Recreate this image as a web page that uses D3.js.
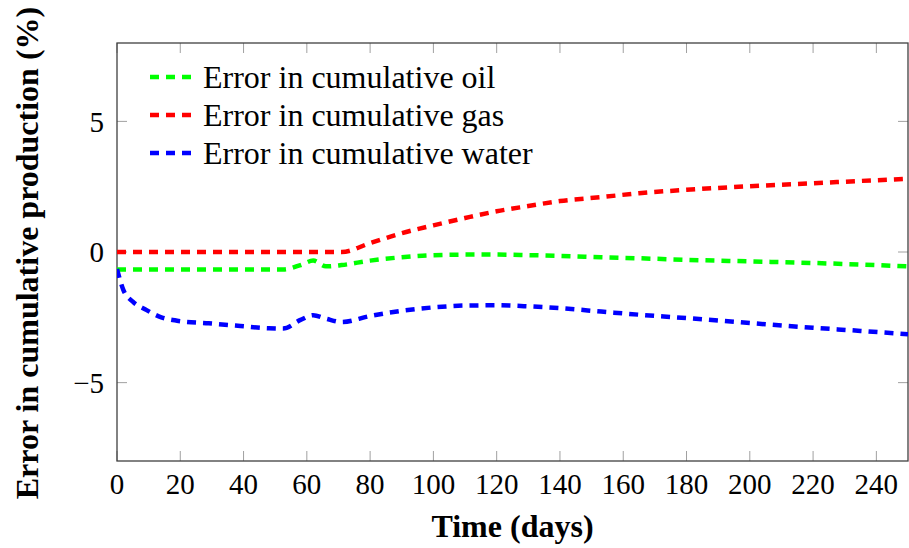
<!DOCTYPE html>
<html>
<head>
<meta charset="utf-8">
<script src="https://cdn.jsdelivr.net/npm/d3@7"></script>
<style>
  body { margin: 0; background: #fff; }
  svg { display: block; }
</style>
</head>
<body>
<script>
// Data
var days  = [0, 2, 5, 9, 14, 19, 29, 39, 48, 52.5, 58, 62, 66, 71, 80, 90, 100, 110, 120, 130, 140, 153, 165, 180, 200, 220, 235, 250];
var oil   = [-0.67, -0.67, -0.67, -0.67, -0.67, -0.67, -0.67, -0.67, -0.67, -0.67, -0.5, -0.33, -0.55, -0.5, -0.33, -0.2, -0.12, -0.1, -0.1, -0.12, -0.15, -0.2, -0.24, -0.3, -0.36, -0.42, -0.48, -0.55];
var gas   = [0, 0, 0, 0, 0, 0, 0, 0, 0, 0, 0, 0, 0, 0, 0.34, 0.72, 1.02, 1.3, 1.56, 1.76, 1.95, 2.1, 2.25, 2.38, 2.52, 2.63, 2.72, 2.8];
var water = [-0.65, -1.45, -1.9, -2.2, -2.5, -2.63, -2.73, -2.83, -2.92, -2.93, -2.6, -2.42, -2.55, -2.68, -2.45, -2.25, -2.12, -2.05, -2.04, -2.08, -2.15, -2.28, -2.4, -2.53, -2.72, -2.9, -3.02, -3.15];

var seriesNames  = ["Error in cumulative oil", "Error in cumulative gas", "Error in cumulative water"];
var seriesColors = ["#00ff00", "#ff0000", "#0000ff"];
var seriesValues = [oil, gas, water];

var xTicks = d3.range(0, 241, 20);
var yTicks = [-5, 0, 5];

//Width and height
var width = 909;
var height = 548;
var pLeft = 117, pRight = 908, pTop = 43, pBottom = 461;

var x = d3.scaleLinear().domain([0, 250]).range([pLeft, pRight]);
var y = d3.scaleLinear().domain([-8, 8]).range([pBottom, pTop]);

var svg = d3.select("body")
            .append("svg")
            .attr("width", width)
            .attr("height", height);

var font = "'Liberation Serif', 'Times New Roman', serif";

svg.append("clipPath").attr("id", "clip")
   .append("rect")
   .attr("x", pLeft).attr("y", pTop)
   .attr("width", pRight - pLeft).attr("height", pBottom - pTop);

// ticks (inside, on all sides)
var tickLen = 10;
var tickColor = "#a0a0a0";
xTicks.forEach(function(t) {
    svg.append("line").attr("x1", x(t)).attr("x2", x(t))
       .attr("y1", pBottom).attr("y2", pBottom - tickLen)
       .attr("stroke", tickColor).attr("stroke-width", 1);
    svg.append("line").attr("x1", x(t)).attr("x2", x(t))
       .attr("y1", pTop).attr("y2", pTop + tickLen)
       .attr("stroke", tickColor).attr("stroke-width", 1);
    svg.append("text").attr("x", x(t)).attr("y", 494)
       .attr("text-anchor", "middle")
       .style("font-family", font).style("font-size", "29px")
       .text(t);
});
yTicks.forEach(function(t) {
    svg.append("line").attr("x1", pLeft).attr("x2", pLeft + tickLen)
       .attr("y1", y(t)).attr("y2", y(t))
       .attr("stroke", tickColor).attr("stroke-width", 1);
    svg.append("line").attr("x1", pRight).attr("x2", pRight - tickLen)
       .attr("y1", y(t)).attr("y2", y(t))
       .attr("stroke", tickColor).attr("stroke-width", 1);
    svg.append("text").attr("x", 104).attr("y", y(t))
       .attr("dy", "0.35em")
       .attr("text-anchor", "end")
       .style("font-family", font).style("font-size", "29px")
       .text(t < 0 ? "\u2212" + Math.abs(t) : t);
});

// frame
svg.append("rect")
   .attr("x", pLeft).attr("y", pTop)
   .attr("width", pRight - pLeft).attr("height", pBottom - pTop)
   .attr("fill", "none")
   .attr("stroke", "#404040").attr("stroke-width", 1.3);

// lines
var line = d3.line()
             .x(function(d) { return x(d[0]); })
             .y(function(d) { return y(d[1]); })
             .curve(d3.curveMonotoneX);

seriesValues.forEach(function(vals, i) {
    svg.append("path")
       .datum(days.map(function(d, j) { return [d, vals[j]]; }))
       .attr("clip-path", "url(#clip)")
       .attr("d", line)
       .attr("fill", "none")
       .attr("stroke", seriesColors[i])
       .attr("stroke-width", 4.5)
       .attr("stroke-dasharray", "9,7");
});

// legend
seriesNames.forEach(function(name, i) {
    var ly = 77 + i * 38;
    svg.append("line")
       .attr("x1", 150).attr("x2", 191)
       .attr("y1", ly).attr("y2", ly)
       .attr("stroke", seriesColors[i])
       .attr("stroke-width", 4.5)
       .attr("stroke-dasharray", "9,7");
    svg.append("text")
       .attr("x", 203).attr("y", ly)
       .attr("dy", "0.35em")
       .style("font-family", font).style("font-size", "32px")
       .text(name);
});

// axis labels
svg.append("text")
   .attr("x", (pLeft + pRight) / 2).attr("y", 537)
   .attr("text-anchor", "middle")
   .style("font-family", font).style("font-size", "32px").style("font-weight", "bold")
   .text("Time (days)");

svg.append("text")
   .attr("transform", "translate(38," + 253 + ") rotate(-90)")
   .attr("text-anchor", "middle")
   .style("font-family", font).style("font-size", "32px").style("font-weight", "bold")
   .text("Error in cumulative production (%)");
</script>
</body>
</html>
